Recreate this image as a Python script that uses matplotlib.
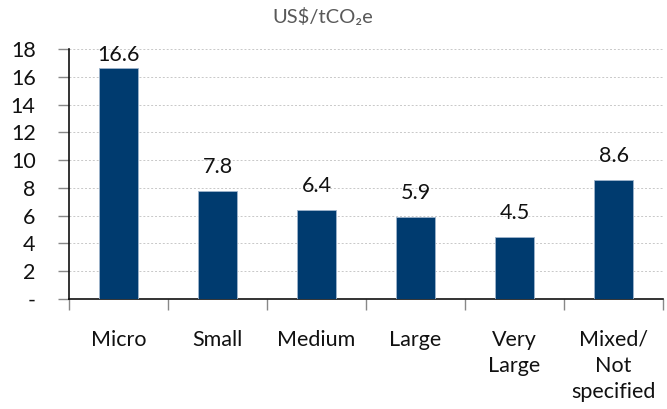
import matplotlib
matplotlib.use("Agg")
import matplotlib.pyplot as plt
from matplotlib.ticker import FixedLocator, FixedFormatter

categories = ["Micro", "Small", "Medium", "Large", "Very\nLarge", "Mixed/\nNot\nspecified"]
values = [16.6, 7.8, 6.4, 5.9, 4.5, 8.6]
y_ticks = [0, 2, 4, 6, 8, 10, 12, 14, 16, 18]
y_tick_labels = ["-", "2", "4", "6", "8", "10", "12", "14", "16", "18"]
value_labels = ["16.6", "7.8", "6.4", "5.9", "4.5", "8.6"]

plt.rcParams['font.family'] = ['Lato', 'DejaVu Sans']

fig = plt.figure(figsize=(6.67, 4.09), dpi=100)
ax_h_px = 250
ax = fig.add_axes([69/667, 1 - 299/409, (663-69)/667, ax_h_px/409])

ymax = 18
x = list(range(len(categories)))
ax.bar(x, values, width=0.4, color="#003B6F", edgecolor="#9FB5CC", linewidth=0.6, zorder=3)

pts_per_unit = ax_h_px / ymax * 72 / 100
for xi, v, lab in zip(x, values, value_labels):
    headroom = (ymax - v) * pts_per_unit
    gap = max(2.5, min(10, headroom - 11.5))
    ax.annotate(lab, (xi, v), xytext=(0, gap), textcoords="offset points",
                ha="center", va="bottom", fontsize=15.5, color="#111111", zorder=4,
                annotation_clip=False)

ax.set_xlim(-0.5, len(categories) - 0.5)
ax.set_ylim(0, ymax)
ax.yaxis.set_major_locator(FixedLocator(y_ticks))
ax.yaxis.set_major_formatter(FixedFormatter(y_tick_labels))
ax.set_xticks([i - 0.5 for i in range(len(categories) + 1)])
ax.set_xticklabels([])
ax.set_xticks(x, minor=True)
ax.set_xticklabels(categories, minor=True, fontsize=15.5, color="#111111", linespacing=1.38, va="top")
ax.tick_params(axis="x", which="minor", length=0, pad=22)
ax.tick_params(axis="x", which="major", length=8, width=1, color="#888888")
ax.tick_params(axis="y", length=8, width=1, color="#888888", labelsize=15.5, labelcolor="#111111", pad=16)

ax.grid(axis="y", color="#c8c8c8", linestyle=(0, (2, 2)), linewidth=0.7, zorder=0)
for s in ["top", "right"]:
    ax.spines[s].set_visible(False)
ax.spines["left"].set_color("#111111")
ax.spines["bottom"].set_color("#111111")
ax.spines["left"].set_linewidth(1.2)
ax.spines["bottom"].set_linewidth(1.2)

fig.text(323/667, 1 - 17/409, "US$/tCO\u2082e", ha="center", va="center", fontsize=14.5, color="#595959")

fig.savefig("out.png", dpi=100)
